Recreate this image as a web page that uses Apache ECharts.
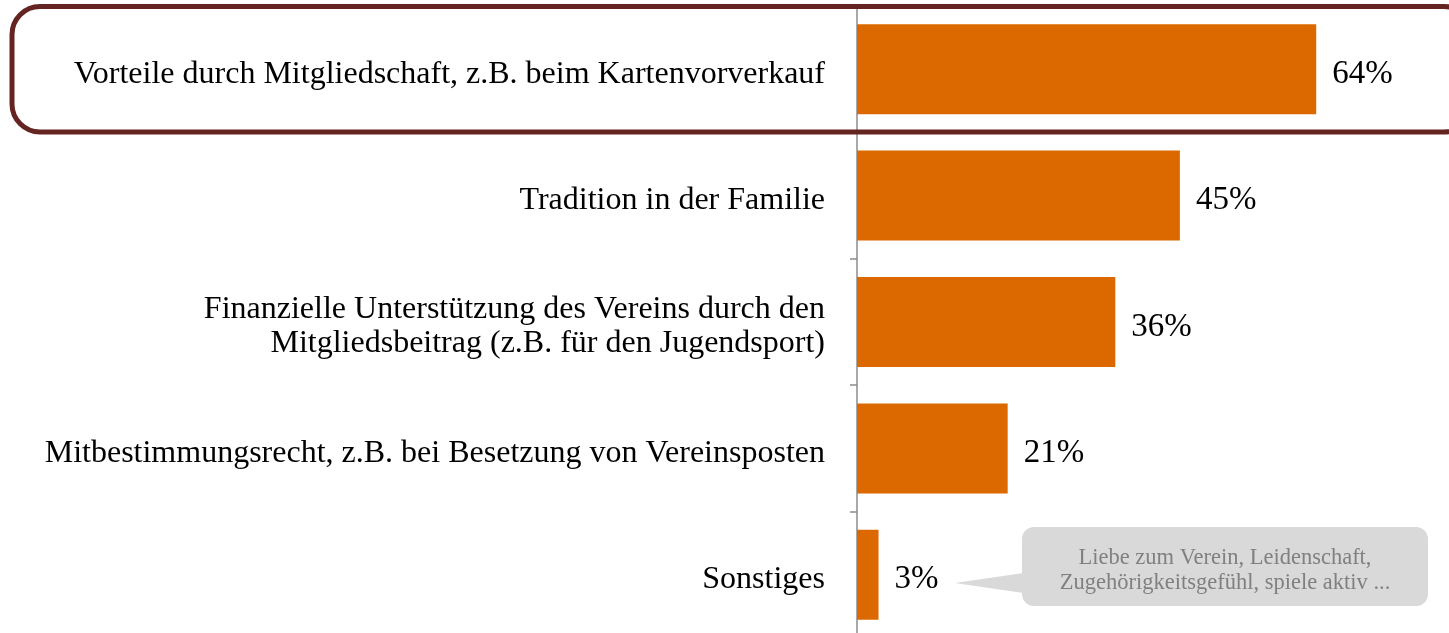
<!DOCTYPE html>
<html>
<head>
<meta charset="utf-8">
<script src="https://cdn.jsdelivr.net/npm/echarts@6/dist/echarts.min.js"></script>
<style>
  html, body { margin: 0; padding: 0; background: #fff; }
  #chart { width: 1449px; height: 633px; }
</style>
</head>
<body>
<div id="chart"></div>
<script>
const categories = [
  'Vorteile durch Mitgliedschaft, z.B. beim Kartenvorverkauf',
  'Tradition in der Familie',
  'Finanzielle Unterstützung des Vereins durch den\nMitgliedsbeitrag (z.B. für den Jugendsport)',
  'Mitbestimmungsrecht, z.B. bei Besetzung von Vereinsposten',
  'Sonstiges'
]
const shares = [64, 45, 36, 21, 3]
const calloutLines = [
  'Liebe zum Verein, Leidenschaft,',
  'Zugehörigkeitsgefühl, spiele aktiv ...'
]

const serif = '"Liberation Serif", "DejaVu Serif", serif'
const chart = echarts.init(document.getElementById('chart'))

chart.setOption({
  animation: false,
  grid: {
    left: 857,
    right: 18,
    top: 6,
    bottom: -5,
    outerBoundsMode: 'none'
  },
  xAxis: {
    type: 'value',
    min: 0,
    max: 80,
    show: false
  },
  yAxis: {
    type: 'category',
    inverse: true,
    data: categories,
    axisLine: { lineStyle: { color: '#8c8c8c', width: 1.5 } },
    axisTick: { show: true, length: 7, lineStyle: { color: '#8c8c8c', width: 1.5 } },
    axisLabel: {
      margin: 32,
      align: 'right',
      // push the text a few px down, like the original
      formatter: (v) => v.split('\n').map((l) => '{t|' + l + '}').join('\n'),
      rich: {
        t: {
          color: '#000',
          fontFamily: serif,
          fontSize: 32,
          lineHeight: 34,
          padding: [10, 0, 0, 0]
        }
      }
    },
    splitLine: { show: false }
  },
  series: [
    {
      type: 'bar',
      data: shares,
      barWidth: 90,
      itemStyle: { color: '#dc6900' },
      label: {
        show: true,
        position: 'right',
        distance: 16,
        offset: [0, 5],
        color: '#000',
        fontFamily: serif,
        fontSize: 33,
        formatter: (p) => p.value + '%'
      }
    }
  ],
  graphic: [
    {
      type: 'rect',
      shape: { x: 12, y: 6.5, width: 1460, height: 125.5, r: 28 },
      style: { fill: 'none', stroke: '#642522', lineWidth: 5 },
      z: 10
    },
    {
      type: 'polygon',
      shape: { points: [[955, 583], [1030, 572], [1030, 594]] },
      style: { fill: '#d9d9d9' },
      z: 10
    },
    {
      type: 'rect',
      shape: { x: 1022, y: 527, width: 406, height: 79, r: 12 },
      style: { fill: '#d9d9d9' },
      z: 10
    },
    {
      type: 'text',
      x: 1225,
      y: 571,
      style: {
        text: calloutLines.join('\n'),
        fill: '#808080',
        font: '22.5px ' + serif,
        lineHeight: 25,
        align: 'center',
        verticalAlign: 'middle'
      },
      z: 11
    }
  ]
})
</script>
</body>
</html>
